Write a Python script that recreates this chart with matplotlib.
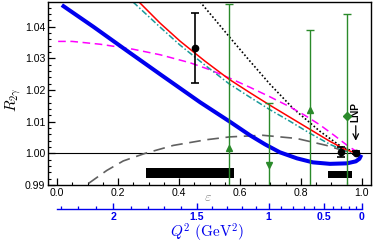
import numpy as np
import matplotlib
matplotlib.use("Agg")
import matplotlib.pyplot as plt
from matplotlib.ticker import MultipleLocator, FixedLocator

plt.rcParams['font.family'] = ['Liberation Sans', 'DejaVu Sans']
plt.rcParams['mathtext.fontset'] = 'cm'

# ---- data ----
blue_eps = [0.0154, 0.1190, 0.2285, 0.3377, 0.4689, 0.5672, 0.6328, 0.6820, 0.7311, 0.7869,
            0.8393, 0.8951, 0.9508, 0.9803, 0.9918, 0.9984]
blue_R   = [1.04683, 1.03997, 1.03244, 1.02500, 1.01614, 1.00997, 1.00570, 1.00285, 1.00032,
            0.99842, 0.99715, 0.99668, 0.99684, 0.99747, 0.99826, 0.99953]

red_eps = [0.2689, 0.3377, 0.4033, 0.4852, 0.5639, 0.6328, 0.6984, 0.7639, 0.8295, 0.8951, 0.9443, 0.9869]
red_R   = [1.04778, 1.04114, 1.03544, 1.02911, 1.02342, 1.01915, 1.01519, 1.01139, 1.00759,
           1.00380, 1.00127, 0.99984]

teal_eps = [0.2492, 0.3377, 0.4033, 0.4852, 0.5639, 0.6328, 0.6984, 0.7639, 0.8295, 0.8951, 0.9443, 0.9869]
teal_R   = [1.04778, 1.03987, 1.03418, 1.02785, 1.02199, 1.01772, 1.01377, 1.01013, 1.00633,
            1.00285, 1.00079, 0.99968]

mag_eps = [0.0033, 0.0492, 0.1410, 0.2492, 0.3377, 0.4361, 0.5016, 0.5672, 0.6328, 0.6984,
           0.7639, 0.8131, 0.8623, 0.9115, 0.9541, 0.9869]
mag_R   = [1.03535, 1.03535, 1.03446, 1.03288, 1.03114, 1.02861, 1.02639, 1.02370, 1.02085,
           1.01785, 1.01468, 1.01199, 1.00899, 1.00551, 1.00234, 1.00032]

dot_eps = [0.4689, 0.5180, 0.5672, 0.6328, 0.6984, 0.7738, 0.8623, 0.9334, 0.9803]
dot_R   = [1.04788, 1.04225, 1.03655, 1.02911, 1.02184, 1.01424, 1.00696, 1.00206, 1.00032]

gray_eps = [0.103, 0.163, 0.217, 0.289, 0.381, 0.490, 0.567, 0.675, 0.786, 0.884, 0.938, 0.960]
gray_R   = [0.9905, 0.9946, 0.9976, 1.0000, 1.0025, 1.0043, 1.0052, 1.0057, 1.0047, 1.0025, 1.0009, 1.0004]

black_eps = [0.452, 0.931, 0.980]
black_R   = [1.0333, 1.0004, 1.0002]
black_err = [0.0111, 0.0015, 0.0004]

green_eps = [0.565, 0.695, 0.830, 0.950]
green_R   = [1.0016, 0.9962, 1.0136, 1.0117]
green_err = [0.0456, 0.0196, 0.0253, 0.0323]
green_mk  = ['^', 'v', '^', 'D']

syst_lo  = [0.291, 0.889]
syst_hi  = [0.580, 0.969]
syst_c   = [0.99383, 0.99335]
syst_h   = [0.0015, 0.0010]

q2_major = [2, 1.5, 1, 0.5, 0]
q2_major_labels = ['2', '1.5', '1', '0.5', '0']
q2_minor = [round(0.1 * i, 1) for i in range(0, 24)]

E_BEAM = 1.6
M_P = 0.938272


def eps_of_q2(q2):
    q2 = np.asarray(q2, dtype=float)
    s = q2 / (4 * E_BEAM**2 - 2 * E_BEAM * q2 / M_P)
    s = np.clip(s, 0, 1 - 1e-12)
    tan2 = s / (1 - s)
    tau = q2 / (4 * M_P**2)
    return 1.0 / (1.0 + 2 * (1 + tau) * tan2)


q2_max = 4 * E_BEAM**2 / (1 + 2 * E_BEAM / M_P)

fig = plt.figure(figsize=(3.74, 2.44), dpi=100)
L, R_, B, T = 48 / 374, 371 / 374, 1 - 185 / 244, 1 - 2.3 / 244
ax = fig.add_axes([L, B, R_ - L, T - B])

ax.axhline(1.0, color='black', lw=0.8, zorder=1)

for lo, hi, c, h in zip(syst_lo, syst_hi, syst_c, syst_h):
    ax.fill_between([lo, hi], [c - h, c - h], [c + h, c + h], color='black', lw=0, zorder=3)

ax.plot(gray_eps, gray_R, color='#606060', lw=1.2, dashes=(7, 4), zorder=2)
ax.plot(dot_eps, dot_R, color='black', lw=1.2, linestyle=(0, (1, 1.3)), zorder=2)
ax.plot(mag_eps, mag_R, color='#ff00ff', lw=1.1, dashes=(5, 3), zorder=2)
ax.plot(teal_eps, teal_R, color='#1a9a9a', lw=1.1, dashes=(4, 1.5, 1, 1.5), zorder=2)
ax.plot(red_eps, red_R, color='#ff0000', lw=1.1, zorder=2)
ax.plot(blue_eps, blue_R, color='#0000ee', lw=2.9, zorder=4, solid_capstyle='butt')

for e, r, er, mk in zip(green_eps, green_R, green_err, green_mk):
    ax.errorbar([e], [r], yerr=[er], fmt=mk, color='#2a8a2a', ms=5 if mk != 'D' else 4,
                elinewidth=1.0, capsize=3, capthick=1.0, zorder=5)

ax.errorbar(black_eps, black_R, yerr=black_err, fmt='o', color='black', ms=4.5,
            elinewidth=1.2, capsize=3, capthick=1.2, zorder=6)

ax.text(0.98, 1.0130, 'LNP', rotation=90, ha='center', va='center', fontsize=7.3, fontweight='bold')
ax.annotate('', xy=(0.98, 1.0031), xytext=(0.98, 1.0096),
            arrowprops=dict(arrowstyle='->', color='black', lw=0.9))

ax.set_xlim(-0.03, 1.03)
ax.set_ylim(0.99, 1.0477)
ax.xaxis.set_major_locator(MultipleLocator(0.2))
ax.xaxis.set_minor_locator(MultipleLocator(0.05))
ax.yaxis.set_major_locator(MultipleLocator(0.01))
ax.yaxis.set_minor_locator(MultipleLocator(0.002))
ax.xaxis.set_major_formatter(plt.FuncFormatter(lambda v, p: f'{v:.1f}'))
ax.yaxis.set_major_formatter(plt.FuncFormatter(lambda v, p: f'{v:.2f}'))
ax.tick_params(axis='both', which='major', direction='in', length=5, width=0.9, labelsize=7.6, pad=2)
ax.tick_params(axis='both', which='minor', direction='in', length=2.5, width=0.8)
ax.tick_params(top=False, right=False, which='both')
for s in ax.spines.values():
    s.set_linewidth(1.0)

ax.text(0.495, 0.9863, r'$\varepsilon$', color='#808080', fontsize=10, ha='center', va='center', clip_on=False)
fig.text(13 / 374, 1 - 100 / 244, r'$R_{2\gamma}$', fontsize=11, rotation=90, ha='center', va='center')

# secondary Q^2 axis
yline = 1 - 209 / 244
ax2 = fig.add_axes([L, yline, R_ - L, 0.001])
ax2.set_xlim(ax.get_xlim())
ax2.set_ylim(0, 1)
ax2.patch.set_visible(False)
for k in ['top', 'left', 'right']:
    ax2.spines[k].set_visible(False)
ax2.spines['bottom'].set_color('#0000ee')
ax2.spines['bottom'].set_linewidth(1.0)
ax2.spines['bottom'].set_bounds(float(eps_of_q2(q2_max)), 1.0)
ax2.set_yticks([])
ax2.xaxis.set_major_locator(FixedLocator(eps_of_q2(q2_major)))
ax2.set_xticklabels(q2_major_labels)
ax2.xaxis.set_minor_locator(FixedLocator(eps_of_q2(q2_minor)))
ax2.tick_params(axis='x', which='major', direction='in', length=4.5, width=1.0, colors='#0000ee',
                labelsize=7.6, pad=2)
ax2.tick_params(axis='x', which='minor', direction='in', length=2.2, width=0.9, colors='#0000ee')
for lab in ax2.get_xticklabels():
    lab.set_fontweight('bold')
fig.text(207 / 374, 1 - 233 / 244, r'$Q^2\ (\mathrm{GeV}^2)$', color='#0000ee', fontsize=11,
         ha='center', va='center')

fig.savefig('out.png', dpi=100)
